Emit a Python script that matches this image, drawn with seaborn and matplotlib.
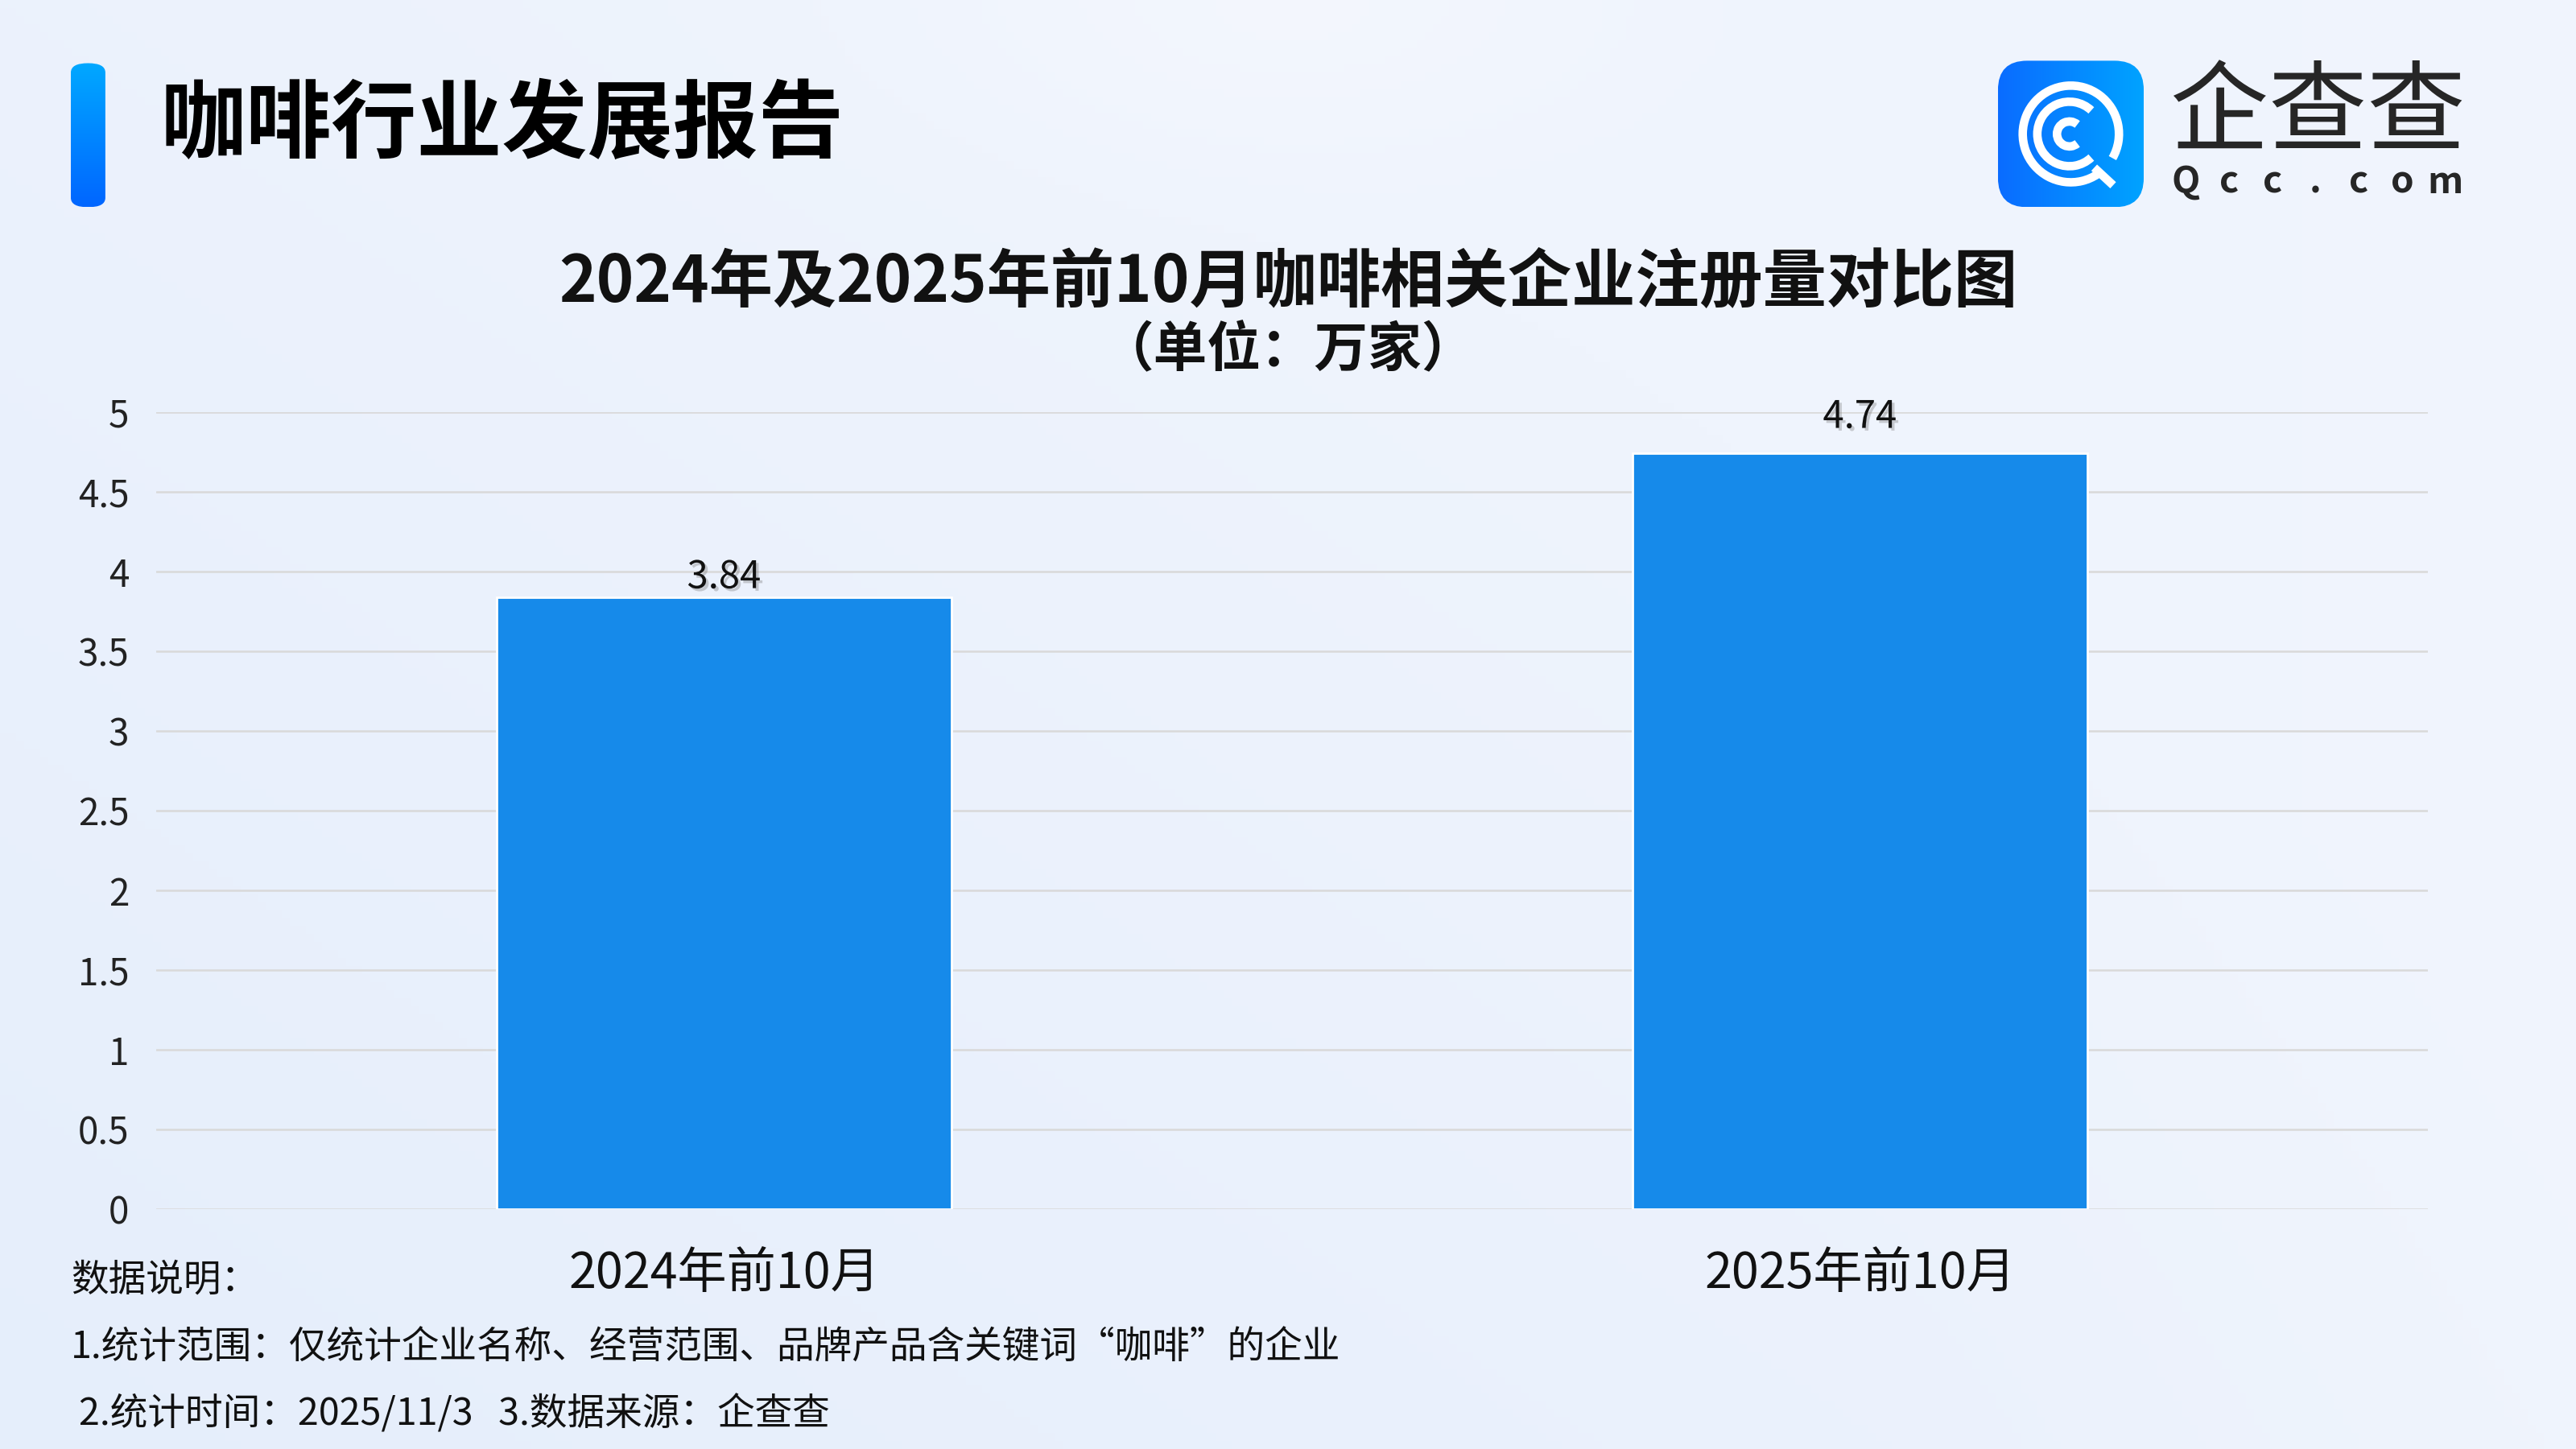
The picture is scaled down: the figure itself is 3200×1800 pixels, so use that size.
"""
Recreate: 2024年及2025年前10月咖啡相关企业注册量对比图 (bar chart)
"""
import numpy as np
import matplotlib
matplotlib.use("Agg")
import matplotlib.pyplot as plt
import matplotlib.patheffects as pe
from matplotlib.patches import FancyBboxPatch, Arc
from matplotlib.ticker import FuncFormatter
import seaborn as sns

# data
periods = ["2024年前10月", "2025年前10月"]
counts = [3.84, 4.74]  # 万家
y_ticks = [0, 0.5, 1, 1.5, 2, 2.5, 3, 3.5, 4, 4.5, 5]

header = "咖啡行业发展报告"
title = "2024年及2025年前10月咖啡相关企业注册量对比图"
subtitle = "（单位：万家）"
notes = [
    "数据说明：",
    "1.统计范围：仅统计企业名称、经营范围、品牌产品含关键词“咖啡”的企业",
    "2.统计时间：2025/11/3   3.数据来源：企查查",
]

BAR_BLUE = "#168AEA"
GRID = "#D9D9D9"

sns.set_style("white")
plt.rcParams["font.family"] = ["Noto Sans CJK SC", "DejaVu Sans"]

fig = plt.figure(figsize=(16, 9), dpi=200)

# background: soft blue gradient with a faint light blob at top centre
bg = fig.add_axes([0, 0, 1, 1], zorder=-10)
h, w = 180, 320
yy, xx = np.mgrid[0:h, 0:w]
base = np.array([239, 244, 253]) / 255
tint = np.array([226, 236, 251]) / 255
light = np.array([246, 248, 254]) / 255
t = np.clip((1 - xx / w) * 0.6 + (yy / h) * 0.5 - 0.35, 0, 1)[..., None]
img = base * (1 - t) + tint * t
blob = np.exp(-(((xx - 160) / 45.0) ** 2 + ((yy - 0) / 20.0) ** 2))[..., None] * 0.6
img = img * (1 - blob) + light * blob
r_side = np.clip((xx / w - 0.75) * 2, 0, 1)[..., None] * 0.5
img = img * (1 - r_side) + light * r_side
bg.imshow(img, aspect="auto", extent=[0, 1, 0, 1], origin="upper")
bg.set_axis_off()

# main chart
ax = fig.add_axes([0.0606, 0.1656, 0.8819, 0.55])
ax.set_facecolor("none")
sns.barplot(x=periods, y=counts, width=0.4, color=BAR_BLUE, saturation=1,
            ax=ax, zorder=3)
ax.set_xlim(-0.5, 1.5)
ax.set_ylim(0, 5)
ax.set_yticks(y_ticks)
ax.yaxis.set_major_formatter(FuncFormatter(lambda v, _: f"{v:g}"))
ax.grid(axis="y", color=GRID, lw=0.9, zorder=0)
ax.grid(axis="x", visible=False)
ax.set_axisbelow(True)
for s in ax.spines.values():
    s.set_visible(False)
ax.set_xlabel("")
ax.set_ylabel("")
ax.tick_params(axis="y", length=0, pad=12, labelsize=16.5, labelcolor="#222222")
ax.tick_params(axis="x", length=0, pad=18, labelsize=22, labelcolor="#111111")

# value labels (the reference sets them at slightly different heights)
shadow = [pe.withSimplePatchShadow(offset=(1.2, -1.2), shadow_rgbFace="#777777",
                                   alpha=0.35)]
for bar, pad in zip(ax.patches, [0, 7.5]):
    ax.annotate(f"{bar.get_height():.2f}",
                (bar.get_x() + bar.get_width() / 2, bar.get_height()),
                xytext=(0, pad), textcoords="offset points",
                ha="center", va="bottom", fontsize=17, color="#111111",
                path_effects=shadow)

# titles
fig.text(0.5, 0.805, title, ha="center", va="center", fontsize=28.5,
         fontweight="bold", color="#111111")
fig.text(0.5, 0.758, subtitle, ha="center", va="center", fontsize=24,
         fontweight="bold", color="#111111")

# header text
fig.text(0.0625, 0.913, header, ha="left", va="center", fontsize=38.2,
         fontweight="black", color="#000000")

# header accent bar (vertical gradient, rounded)
acc = fig.add_axes([0.0275, 0.857, 0.0134, 0.0994])
acc.set_xlim(0, 1)
acc.set_ylim(0, 1)
acc.set_axis_off()
grad_v = np.linspace(0, 1, 100)[:, None]
top_c = np.array([0, 168, 255]) / 255
bot_c = np.array([0, 102, 255]) / 255
gimg = top_c * (1 - grad_v[..., None]) + bot_c * grad_v[..., None]
gimg = np.repeat(gimg, 10, axis=1)
im = acc.imshow(gimg, extent=[0, 1, 0, 1], aspect="auto", origin="upper")
clip = FancyBboxPatch((0, 0), 1, 1, boxstyle="round,pad=0,rounding_size=0.5",
                      mutation_aspect=0.13, transform=acc.transData,
                      facecolor="none", edgecolor="none")
acc.add_patch(clip)
im.set_clip_path(clip)

# logo: rounded gradient square with Q-like rings
logo = fig.add_axes([0.7756, 0.857, 0.0566, 0.1011])
logo.set_xlim(0, 1)
logo.set_ylim(0, 1)
logo.set_axis_off()
grad_h = np.linspace(0, 1, 100)[None, :]
left_c = np.array([10, 108, 255]) / 255
right_c = np.array([0, 163, 255]) / 255
limg = left_c * (1 - grad_h[..., None]) + right_c * grad_h[..., None]
limg = np.repeat(limg, 100, axis=0)
lim = logo.imshow(limg, extent=[0, 1, 0, 1], aspect="auto", origin="upper")
lclip = FancyBboxPatch((0, 0), 1, 1, boxstyle="round,pad=0,rounding_size=0.2",
                       transform=logo.transData, facecolor="none",
                       edgecolor="none")
logo.add_patch(lclip)
lim.set_clip_path(lclip)
logo.add_patch(Arc((0.5, 0.5), 0.66, 0.66, theta1=-30, theta2=304,
                   color="white", lw=3.8))
logo.add_patch(Arc((0.49, 0.5), 0.44, 0.44, theta1=47, theta2=313,
                   color="white", lw=3.8))
logo.add_patch(Arc((0.49, 0.5), 0.17, 0.17, theta1=50, theta2=310,
                   color="white", lw=3.8))
logo.plot([0.66, 0.79], [0.27, 0.15], color="white", lw=3.8,
          solid_capstyle="butt")

fig.text(0.8425, 0.92, "企查查", ha="left", va="center", fontsize=44,
         fontweight="light", color="#262626")
for i, ch in enumerate("Qcc.com"):
    fig.text(0.8485 + i * 0.0168, 0.874, ch, ha="center", va="center",
             fontsize=16.5, fontweight="bold", color="#262626")

# footer notes
fig.text(0.0275, 0.1165, notes[0], ha="left", va="center", fontsize=16.8,
         color="#111111")
fig.text(0.0275, 0.0695, notes[1], ha="left", va="center", fontsize=16.8,
         color="#111111")
fig.text(0.0306, 0.024, notes[2], ha="left", va="center", fontsize=16.8,
         color="#111111")

fig.savefig("out.png", dpi=200)
